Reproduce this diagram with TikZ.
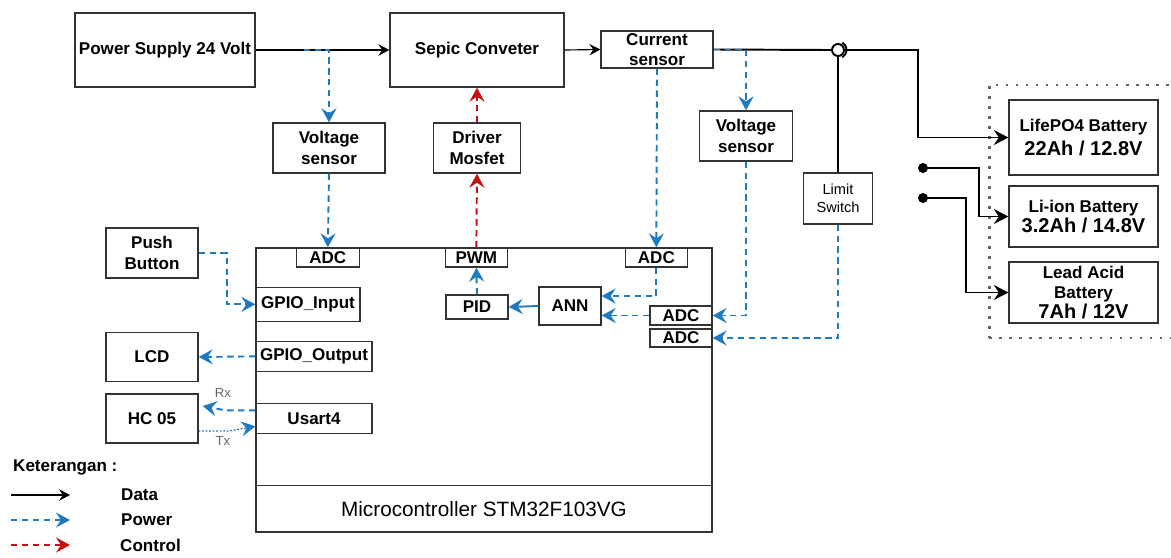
\documentclass[tikz,border=0pt]{standalone}
\usepackage{fontspec}
\setmainfont{Liberation Sans}
\usepackage{tikz}
\usetikzlibrary{arrows.meta}
\usetikzlibrary{shapes,fit,calc}

\definecolor{powerblue}{RGB}{31,122,192}
\definecolor{controlred}{RGB}{196,18,18}

\begin{document}
\begin{tikzpicture}[font=\fontsize{9.7}{11.5}\selectfont\bfseries]
    \tikzstyle{box} = [
      draw=black!80,
      line width=0.75pt,
      anchor=center,
      align=center,
      inner sep=1pt,
    ]
    \tikzstyle{port} = [
      box,
      anchor=north,
      minimum width=1.24cm,
      minimum height=0.38cm,
      inner sep=0pt,
    ]
    \tikzstyle{arrow} = [
      -{Stealth[length=2.2mm,width=2.3mm,inset=0.8mm]},
      line width=0.65pt,
      draw=black,
    ]
    \tikzstyle{dataline} = [
      -{Stealth[length=2.9mm,width=3mm,inset=1mm]},
      line width=1.1pt,
      draw=black,
    ]
    \tikzstyle{powerline} = [
      -{Stealth[length=2.8mm,width=3mm,inset=1mm]},
      line width=1.1pt,
      draw=powerblue,
      dash pattern=on 3.6pt off 2.6pt,
    ]
    \tikzstyle{controlline} = [
      powerline,
      draw=controlred,
    ]
    \tikzstyle{txline} = [
      powerline,
      line width=0.75pt,
      dash pattern=on 1pt off 1pt,
    ]
    \tikzstyle{small} = [
      font=\fontsize{7.5}{9}\selectfont\mdseries,
      text=black!60,
    ]

    \newcommand{\batfont}[0]{\fontsize{11.4}{13}\selectfont}

    \useasboundingbox (0,0) rectangle (23.42,-11.14);

    % supply and converter
    {
      \node[box, minimum width=3.6cm, minimum height=1.48cm] (psBox) at (3.30,-1.00) {Power Supply 24 Volt};
      \node[box, minimum width=3.48cm, minimum height=1.48cm] (sepicBox) at (9.54,-1.00) {Sepic Conveter};
      \node[box, minimum width=2.24cm, minimum height=0.74cm, label={[align=center]center:Current\\sensor}] (curSensor) at (13.14,-0.99) {};
      \coordinate (psTap) at ([xshift=0.96cm] psBox.east);
    }

    % sensors
    {
      \node[box, minimum width=2.24cm, minimum height=1cm] (voltSensorI) at (6.58,-2.96) {Voltage\\sensor};
      \node[box, minimum width=1.74cm, minimum height=1cm] (driverBox) at (9.54,-2.96) {Driver\\Mosfet};
      \node[box, minimum width=1.86cm, minimum height=1cm] (voltSensorII) at (14.92,-2.72) {Voltage\\sensor};
      \node[box, minimum width=1.38cm, minimum height=1.02cm, font=\fontsize{8.3}{10}\selectfont\mdseries] (limitSwitch) at (16.76,-3.97) {Limit\\Switch};
      \node[circle, draw, line width=1.1pt, minimum size=0.24cm, inner sep=0pt] (jumpNode) at (16.76,-1.00) {};
    }

    % batteries
    {
      \node[box, minimum width=2.98cm, minimum height=1.5cm] (lifepoBat) at (21.67,-2.75) {LifePO4 Battery\\[2pt]{\batfont 22Ah / 12.8V}};
      \node[box, minimum width=2.98cm, minimum height=1.22cm] (liionBat) at (21.67,-4.33) {Li-ion Battery\\{\batfont 3.2Ah / 14.8V}};
      \node[box, minimum width=2.98cm, minimum height=1.22cm, label={[align=center]center:Lead Acid\\Battery\\{\batfont 7Ah / 12V}}] (leadBat) at (21.67,-5.85) {};
      \node[draw=black!60, line width=1.5pt, dash pattern=on 1.5pt off 4.2pt, inner xsep=0.38cm, inner ysep=0.29cm, fit=(lifepoBat)(leadBat)] (batFrame) {};
      \node[circle, fill, inner sep=0pt, minimum size=0.2cm] (dotI) at (18.46,-3.36) {};
      \node[circle, fill, inner sep=0pt, minimum size=0.2cm] (dotII) at (18.46,-3.96) {};
    }

    % microcontroller
    {
      \node[box, minimum width=9.12cm, minimum height=5.68cm] (mcuBox) at (9.68,-7.80) {};
      \coordinate (mcuDivider) at ([yshift=0.94cm] mcuBox.south);
      \draw[draw=black!80, line width=0.75pt] (mcuDivider -| mcuBox.west) -- (mcuDivider -| mcuBox.east);
      \node[font=\fontsize{11.8}{14}\selectfont\mdseries] (mcuTitle) at ([yshift=0.47cm] mcuBox.south) {Microcontroller STM32F103VG};

      \node[port, minimum width=1.26cm] (adcI) at ([xshift=1.45cm] mcuBox.north west) {ADC};
      \node[port] (pwmPort) at ([xshift=4.42cm] mcuBox.north west) {PWM};
      \node[port] (adcII) at ([xshift=8.02cm] mcuBox.north west) {ADC};
      \node[port, anchor=north east] (adcIII) at ([yshift=-1.16cm] mcuBox.north east) {ADC};
      \node[port, anchor=north east, minimum height=0.36cm] (adcIV) at ([yshift=-1.62cm] mcuBox.north east) {ADC};

      \node[box, anchor=west, minimum width=2.08cm, minimum height=0.68cm] (gpioIn) at ([yshift=-1.14cm] mcuBox.north west) {GPIO\_Input};
      \node[box, anchor=west, minimum width=2.32cm, minimum height=0.60cm] (gpioOut) at ([yshift=-2.18cm] mcuBox.north west) {GPIO\_Output};
      \node[box, anchor=west, minimum width=2.32cm, minimum height=0.60cm] (usartBox) at ([yshift=-3.42cm] mcuBox.north west) {Usart4};

      \node[box, minimum width=1.24cm, minimum height=0.48cm] (pidBox) at (9.54,-6.14) {PID};
      \node[box, minimum width=1.24cm, minimum height=0.76cm] (annBox) at (11.40,-6.12) {ANN};
    }

    % peripherals
    {
      \node[box, minimum width=1.84cm, minimum height=1cm] (pushBtn) at (3.04,-5.06) {Push\\Button};
      \node[box, minimum width=1.84cm, minimum height=0.98cm] (lcdBox) at (3.04,-7.14) {LCD};
      \node[box, minimum width=1.84cm, minimum height=0.98cm] (hcBox) at (3.04,-8.37) {HC 05};
    }

    % data lines
    {
      \draw[arrow] (psBox.east) -- (sepicBox.west);
      \draw[arrow] (sepicBox.east) -- (curSensor.west);
      \draw[dataline, -] (curSensor.east) -- (jumpNode.west);
      \draw[dataline] (jumpNode.east) -- ++(1.46,0) |- (lifepoBat.west);
      \draw[dataline, -] (limitSwitch.north) -- (jumpNode.south);
      \draw[dataline, -] ([shift={(60:0.17cm)}] jumpNode.center) arc[start angle=60, end angle=-60, radius=0.17cm];
      \draw[dataline] (dotI.center) -- ++(1.12,0) |- (liionBat.west);
      \draw[dataline] (dotII.center) -- ++(0.86,0) |- (leadBat.west);
    }

    % power lines
    {
      \draw[powerline] (psTap) -| (voltSensorI.north);
      \draw[powerline] (voltSensorI.south) -- (adcI.north);
      \draw[powerline] (curSensor.south) -- (adcII.north);
      \draw[powerline] (curSensor.east) -| (voltSensorII.north);
      \draw[powerline] (voltSensorII.south) |- (adcIII.east);
      \draw[powerline] (limitSwitch.south) |- (adcIV.east);
      \draw[powerline] (adcII.south) |- ([yshift=0.2cm] annBox.east);
      \draw[powerline] (adcIII.west) -- (adcIII.west -| annBox.east);
      \draw[powerline, solid] (annBox.west) -- (pidBox.east);
      \draw[powerline] (pidBox.north) -- (pwmPort.south);
      \draw[powerline] (pushBtn.east) -- ([xshift=0.56cm] pushBtn.east) |- (gpioIn.west);
      \draw[powerline] (gpioOut.west) -- (lcdBox.east);
      \draw[powerline] ([yshift=0.16cm] usartBox.west) -- ++(-0.6,0) -- ([xshift=0.08cm, yshift=0.25cm] hcBox.east);
      \draw[txline] ([yshift=-0.25cm] hcBox.east) -- ++(0.6,0) -- ([yshift=-0.16cm] usartBox.west);
      \node[small] (rxLabel) at (4.46,-7.86) {Rx};
      \node[small] (txLabel) at (4.46,-8.82) {Tx};
    }

    % control lines
    {
      \draw[controlline] (driverBox.north) -- (sepicBox.south);
      \draw[controlline] (pwmPort.north) -- (driverBox.south);
    }

    % legend
    {
      \node[anchor=west] (legendTitle) at (0.14,-9.34) {Keterangan :};
      \coordinate (dataStart) at (0.22,-9.90);
      \coordinate (dataEnd) at (1.40,-9.90);
      \coordinate (powerStart) at (0.22,-10.40);
      \coordinate (powerEnd) at (1.40,-10.40);
      \coordinate (controlStart) at (0.22,-10.90);
      \coordinate (controlEnd) at (1.40,-10.90);
      \draw[arrow] (dataStart) -- (dataEnd);
      \draw[powerline] (powerStart) -- (powerEnd);
      \draw[controlline] (controlStart) -- (controlEnd);
      \node[anchor=west] (dataLabel) at (2.30,-9.90) {Data};
      \node[anchor=west] (powerLabel) at (2.30,-10.40) {Power};
      \node[anchor=west] (controlLabel) at (2.28,-10.90) {Control};
    }
\end{tikzpicture}
\end{document}
